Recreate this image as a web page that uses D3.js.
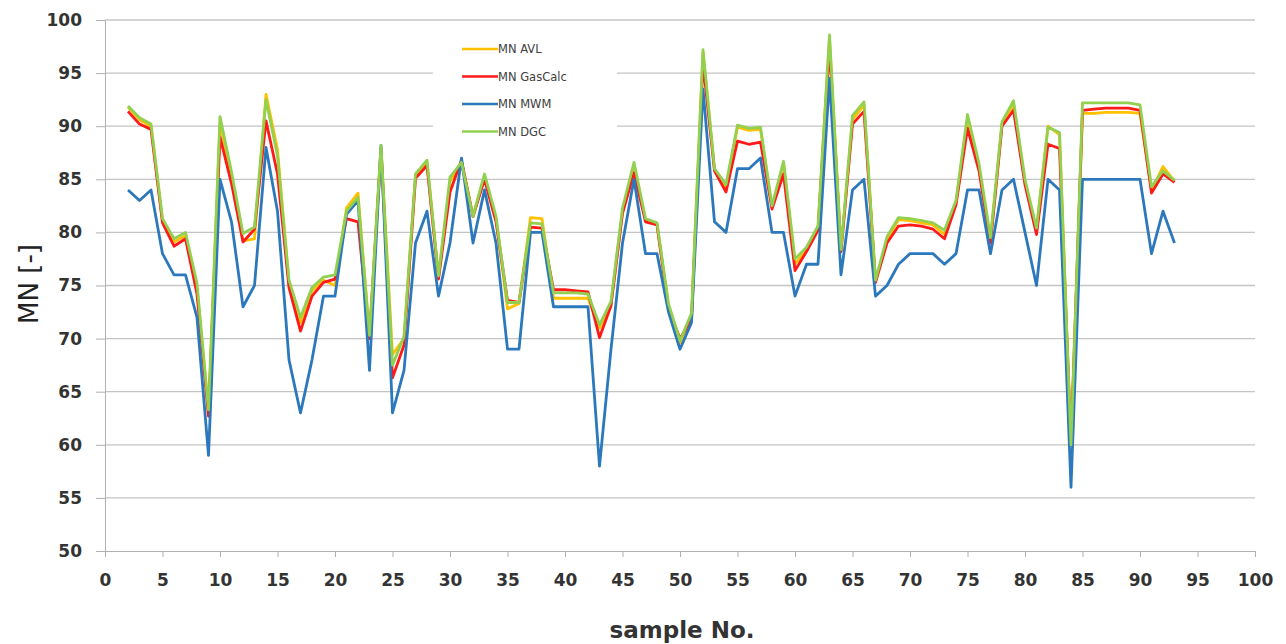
<!DOCTYPE html>
<html>
<head>
<meta charset="utf-8">
<script src="https://cdn.jsdelivr.net/npm/d3@7"></script>
<style>
  body { margin: 0; background: #fff; }
  .axis text { font-family: "DejaVu Sans", sans-serif; font-weight: bold; font-size: 17px; fill: #333; }
  .axis path, .axis line { stroke: #b0b0b0; }
  .grid line { stroke: #c4c4c4; stroke-width: 1.3; }
  .line { fill: none; stroke-width: 2.8; stroke-linejoin: round; }
  .legend text { font-family: "DejaVu Sans", sans-serif; font-size: 11.5px; fill: #404040; }
</style>
</head>
<body>
<script>
// sample numbers 2..93
const samples = d3.range(2, 94);

const mnAVL = [91.8,90.6,90.0,81.1,79.1,79.7,74.8,63.0,90.3,85.2,79.2,79.4,93.0,87.8,75.2,71.5,74.5,75.5,75.0,82.3,83.7,70.2,88.0,68.5,70.0,85.3,86.6,75.8,84.8,86.6,81.5,85.3,81.3,72.8,73.3,81.4,81.3,73.8,73.8,73.8,73.8,71.0,73.3,82.0,86.2,81.2,80.8,73.0,69.6,72.0,97.0,85.9,84.2,89.9,89.6,89.7,82.4,86.5,77.0,78.4,80.4,98.3,78.3,90.6,92.0,75.4,79.3,81.2,81.1,80.9,80.7,79.8,82.8,90.6,86.0,79.3,90.2,92.0,84.8,80.2,90.0,89.2,60.0,91.2,91.2,91.3,91.3,91.3,91.2,84.0,86.2,84.8];
const mnGasCalc = [91.4,90.2,89.7,80.9,78.7,79.4,74.2,62.7,89.0,84.6,79.1,80.3,90.5,85.5,74.8,70.7,74.0,75.3,75.6,81.3,81.0,70.0,87.8,66.3,69.4,85.1,86.3,75.6,83.8,86.8,81.5,85.0,81.0,73.6,73.4,80.5,80.4,74.6,74.6,74.5,74.4,70.1,73.1,81.8,85.6,81.0,80.7,72.8,70.0,71.8,96.0,85.8,83.8,88.6,88.3,88.5,82.2,85.5,76.4,78.2,80.2,97.5,78.2,90.2,91.4,75.3,79.0,80.6,80.7,80.6,80.3,79.4,82.6,89.8,85.8,79.0,90.0,91.5,84.5,79.8,88.3,87.9,60.0,91.5,91.6,91.7,91.7,91.7,91.5,83.7,85.5,84.7];
const mnMWM = [84,83,84,78,76,76,72,59,85,81,73,75,88,82,68,63,68,74,74,81.7,83,67,88.2,63,67,79,82,74,79,87,79,84,79,69,69,80,80,73,73,73,73,58,69,79,85,78,78,72.5,69,71.5,93.5,81,80,86,86,87,80,80,74,77,77,94.5,76,84,85,74,75,77,78,78,78,77,78,84,84,78,84,85,80,75,85,84,56,85,85,85,85,85,85,78,82,79];
const mnDGC = [91.9,90.8,90.2,81.3,79.4,80.0,75.2,63.3,90.9,85.7,79.9,80.5,92.5,87.2,75.5,72.0,74.8,75.8,76.0,82.0,83.3,70.3,88.2,67.5,70.2,85.5,86.8,75.9,85.2,86.6,81.5,85.5,81.5,73.4,73.4,80.9,80.8,74.3,74.3,74.3,74.2,71.3,73.5,82.3,86.6,81.3,80.9,73.3,69.8,72.4,97.2,86.0,84.5,90.1,89.8,89.9,82.5,86.7,77.5,78.6,80.6,98.6,78.4,91.0,92.3,75.5,79.6,81.4,81.3,81.1,80.9,80.2,83.0,91.1,86.5,79.5,90.4,92.4,85.0,80.4,89.9,89.4,60.0,92.2,92.2,92.2,92.2,92.2,92.0,84.3,85.8,84.9];

const seriesNames = ['MN AVL', 'MN GasCalc', 'MN MWM', 'MN DGC'];
const seriesColors = ['#ffc000', '#ff1a1a', '#2c78bd', '#92d050'];
const seriesValues = [mnAVL, mnGasCalc, mnMWM, mnDGC];

const xTicks = d3.range(0, 101, 5);
const yTicks = d3.range(50, 101, 5);

const W = 1286, H = 644;
const margin = {top: 20, right: 31, bottom: 93, left: 105};
const width = W - margin.left - margin.right;
const height = H - margin.top - margin.bottom;

const x = d3.scaleLinear().domain([0, 100]).range([0, width]);
const y = d3.scaleLinear().domain([50, 100]).range([height, 0]);

const svg = d3.select('body').append('svg')
  .attr('width', W)
  .attr('height', H);

const g = svg.append('g')
  .attr('transform', `translate(${margin.left}, ${margin.top})`);

// horizontal gridlines
g.append('g')
  .attr('class', 'grid')
  .selectAll('line')
  .data(yTicks.filter(v => v > 50))
  .enter().append('line')
  .attr('x1', 0)
  .attr('x2', width)
  .attr('y1', d => y(d))
  .attr('y2', d => y(d));

// legend background hides gridlines behind it
g.append('rect')
  .attr('x', 328).attr('y', 16)
  .attr('width', 184).attr('height', 126)
  .attr('fill', '#fff');

const xAxis = d3.axisBottom(x).tickValues(xTicks).tickSize(6).tickPadding(17).tickSizeOuter(0);
const yAxis = d3.axisLeft(y).tickValues(yTicks).tickSize(9).tickPadding(14).tickSizeOuter(0);

g.append('g')
  .attr('class', 'axis axis--x')
  .attr('transform', `translate(0, ${height})`)
  .call(xAxis);

g.append('g')
  .attr('class', 'axis axis--y')
  .call(yAxis);

const line = d3.line()
  .x((d, i) => x(samples[i]))
  .y(d => y(d));

g.selectAll('path.line')
  .data(seriesValues)
  .enter().append('path')
  .attr('class', 'line')
  .attr('stroke', (d, i) => seriesColors[i])
  .attr('d', line);

// legend
const legend = g.append('g')
  .attr('class', 'legend')
  .attr('transform', 'translate(357, 29)');

const items = legend.selectAll('g')
  .data(seriesNames)
  .enter().append('g')
  .attr('transform', (d, i) => `translate(0, ${i * 27.5})`);

items.append('line')
  .attr('x1', 0).attr('x2', 36)
  .attr('stroke', (d, i) => seriesColors[i])
  .attr('stroke-width', 2.6);

items.append('text')
  .attr('x', 36)
  .attr('dy', '0.35em')
  .text(d => d);

// axis titles
svg.append('text')
  .attr('x', margin.left + width / 2 + 2)
  .attr('y', 638)
  .attr('text-anchor', 'middle')
  .style('font-family', '"DejaVu Sans", sans-serif')
  .style('font-weight', 'bold')
  .style('font-size', '23px')
  .style('fill', '#333')
  .text('sample No.');

svg.append('text')
  .attr('transform', 'translate(38, 284) rotate(-90)')
  .attr('text-anchor', 'middle')
  .style('font-family', '"DejaVu Sans", sans-serif')
  .style('font-size', '26px')
  .style('fill', '#222')
  .text('MN [-]');
</script>
</body>
</html>
